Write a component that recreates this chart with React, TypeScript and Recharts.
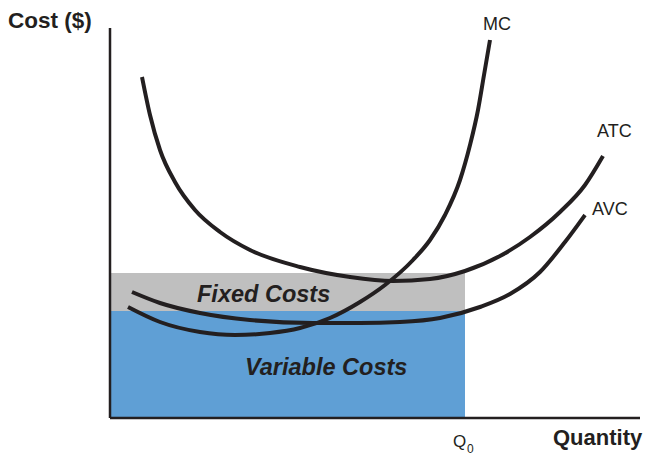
import { LineChart, Line, XAxis, YAxis, ReferenceArea, ReferenceLine } from "recharts";

// quantity / cost units (axis origin = 0,0)
const mcQ = [3.6, 10, 18, 25, 32, 38, 44, 50, 55, 60.6, 64, 67, 70, 72, 73.6, 74.8, 76];
const mcCost = [22.2, 19.2, 17.2, 16.6, 17, 18, 20, 23.2, 26.6, 31.6, 35.6, 40.6, 47.6, 54.6, 61.6, 68.6, 75.6];

const avcQ = [4.4, 10, 18, 28, 40.6, 50, 58, 66, 74, 80, 86, 91, 95];
const avcCost = [25.2, 23, 21, 19.6, 19, 19, 19.2, 20, 22.2, 24.8, 29.2, 35.2, 40.6];

const atcQ = [6.4, 8, 10, 13, 17, 22, 28, 38, 48, 56.6, 64, 71, 78, 84, 90, 95, 98.6];
const atcCost = [68.2, 60.6, 53.6, 47.2, 41.6, 37.2, 33.6, 30.2, 28.2, 27.4, 27.8, 29.4, 32.4, 36.2, 41.2, 46.6, 52.4];

const q0 = 71;
const avcAtQ0 = 21.4;
const atcAtQ0 = 29;

const zip = (xs: number[], ys: number[]) => xs.map((x, i) => ({ x, y: ys[i] }));

const ink = "#231f20";

export default function App() {
  return (
    <div style={{ position: "absolute", left: 0, top: 0, width: 645, height: 455, background: "#fff" }}>
      <LineChart width={645} height={455} margin={{ top: 28, right: 5, bottom: 37, left: 110 }}>
        <XAxis type="number" dataKey="x" domain={[0, 106]} allowDataOverflow hide />
        <YAxis type="number" dataKey="y" domain={[0, 78]} allowDataOverflow hide />
        <ReferenceArea x1={0} x2={q0} y1={0} y2={avcAtQ0} fill="#5f9fd5" fillOpacity={1} stroke="none" />
        <ReferenceArea x1={0} x2={q0} y1={avcAtQ0} y2={atcAtQ0} fill="#bfbfbf" fillOpacity={1} stroke="none" />
        <ReferenceLine x={0} stroke={ink} strokeWidth={2.5} />
        <ReferenceLine y={0} stroke={ink} strokeWidth={2.5} />
        <Line data={zip(atcQ, atcCost)} dataKey="y" type="monotone" stroke={ink} strokeWidth={4} dot={false} isAnimationActive={false} />
        <Line data={zip(avcQ, avcCost)} dataKey="y" type="monotone" stroke={ink} strokeWidth={4} dot={false} isAnimationActive={false} />
        <Line data={zip(mcQ, mcCost)} dataKey="y" type="monotone" stroke={ink} strokeWidth={4} dot={false} isAnimationActive={false} />
      </LineChart>
      <svg width={645} height={455} style={{ position: "absolute", left: 0, top: 0, pointerEvents: "none" }}>
        <g fontFamily="'Liberation Sans', Arial, sans-serif" fill={ink}>
          <text x={8} y={28} fontSize={22.5} fontWeight="bold">Cost ($)</text>
          <text x={553} y={445} fontSize={22} fontWeight="bold">Quantity</text>
          <text x={453} y={447} fontSize={17}>Q</text>
          <text x={467} y={453} fontSize={12}>0</text>
          <text x={483} y={30} fontSize={18}>MC</text>
          <text x={597} y={137} fontSize={18}>ATC</text>
          <text x={592} y={215} fontSize={18}>AVC</text>
          <text x={197} y={302} fontSize={23.5} fontWeight="bold" fontStyle="italic">Fixed Costs</text>
          <text x={245} y={375} fontSize={23.5} fontWeight="bold" fontStyle="italic">Variable Costs</text>
        </g>
      </svg>
    </div>
  );
}
